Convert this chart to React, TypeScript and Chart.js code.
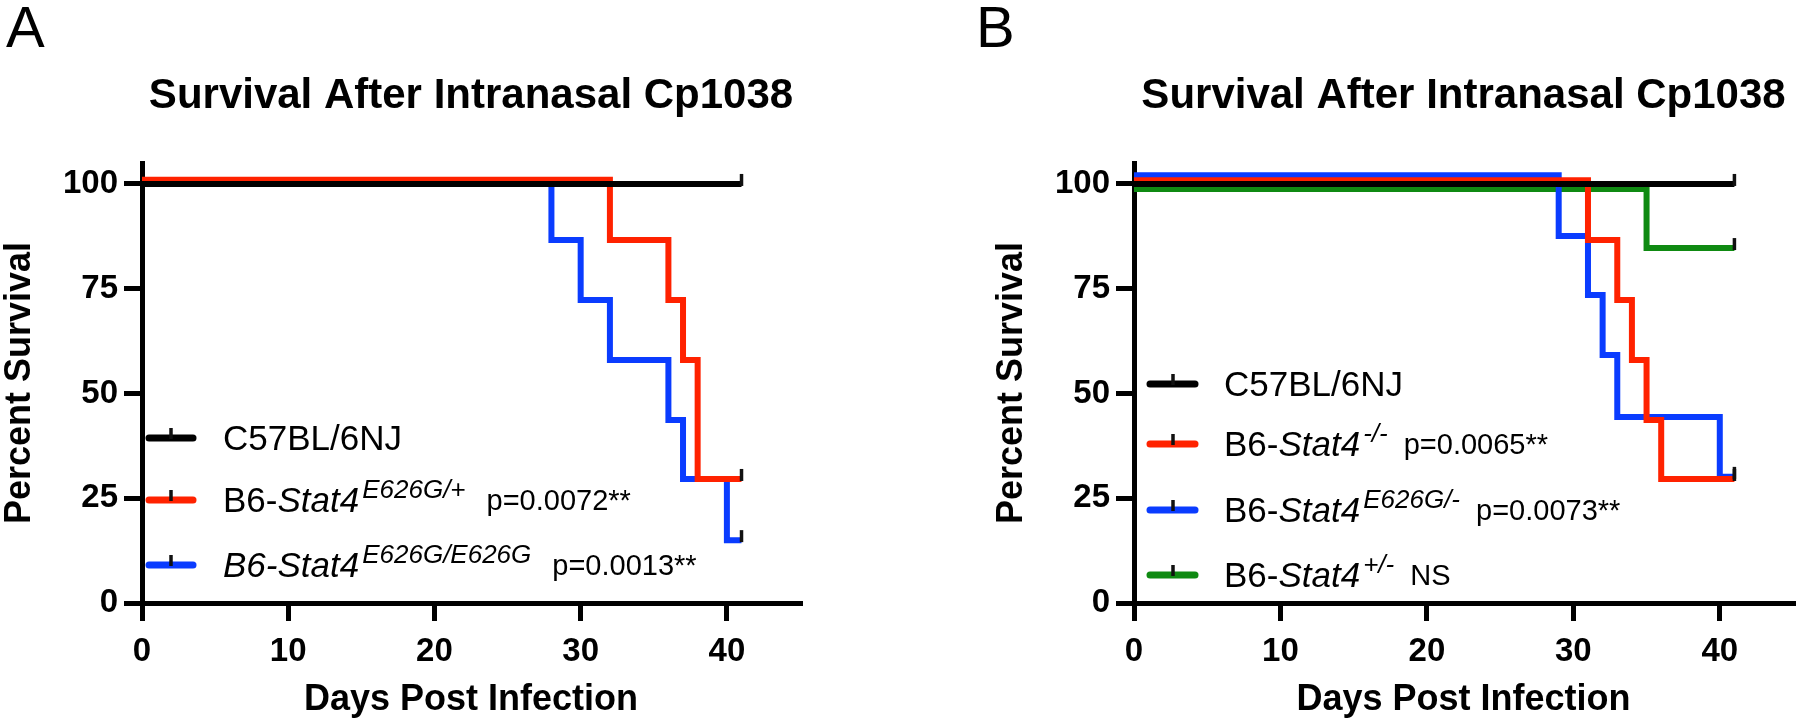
import React, { useEffect, useRef } from 'react';
import { Chart, registerables } from 'chart.js';

Chart.register(...registerables);

const FONT = '"Liberation Sans", Arial, Helvetica, sans-serif';

// ---- shared axis data ----
const xTickValues = [0, 10, 20, 30, 40];
const yTickValues = [0, 25, 50, 75, 100];
const xAxisMax = 45;
const yAxisMax = 105;
const chartTitle = 'Survival After Intranasal Cp1038';
const xAxisTitle = 'Days Post Infection';
const yAxisTitle = 'Percent Survival';

// ---- Panel A ----
const aBlackDays = [0, 41];
const aBlackVals = [100, 100];
const aRedDays = [0, 32, 36, 37, 38, 41];
const aRedVals = [101, 86.6, 72.3, 58.0, 29.6, 29.6];
const aBlueDays = [0, 28, 30, 32, 36, 37, 40, 41];
const aBlueVals = [100, 86.6, 72.3, 58.0, 43.7, 29.6, 15.0, 15.0];
const aNames = ['C57BL/6NJ', 'B6-Stat4', 'B6-Stat4'];
const aSups = ['', 'E626G/+', 'E626G/E626G'];
const aPvals = ['', 'p=0.0072**', 'p=0.0013**'];
const aAllItalic = [false, false, true];

// ---- Panel B ----
const bBlackDays = [0, 41];
const bBlackVals = [100, 100];
const bRedDays = [0, 31, 33, 34, 35, 36, 41];
const bRedVals = [100.9, 86.6, 72.3, 58.0, 43.7, 29.6, 29.6];
const bBlueDays = [0, 29, 31, 32, 33, 40, 41];
const bBlueVals = [102.1, 87.6, 73.5, 59.2, 44.4, 30.1, 30.1];
const bGreenDays = [0, 35, 41];
const bGreenVals = [98.8, 84.7, 84.7];
const bNames = ['C57BL/6NJ', 'B6-Stat4', 'B6-Stat4', 'B6-Stat4'];
const bSups = ['', '-/-', 'E626G/-', '+/-'];
const bPvals = ['', 'p=0.0065**', 'p=0.0073**', 'NS'];
const bAllItalic = [false, false, false, false];

const BLACK = '#000000';
const RED = '#ff2200';
const BLUE = '#0a3cff';
const GREEN = '#0f8a12';

type PanelCfg = {
  letter: string;
  letterX: number;
  padLeft: number;
  padRight: number;
  series: { days: number[]; vals: number[]; color: string }[];
  names: string[];
  sups: string[];
  pvals: string[];
  allItalic: boolean[];
  legendLineX0: number;
  legendLineX1: number;
  legendTickX: number;
  legendTextX: number;
  legendYs: number[];
  pGap: number;
};

const panels: PanelCfg[] = [
  {
    letter: 'A',
    letterX: 6,
    padLeft: 0,
    padRight: 100,
    series: [
      { days: aBlackDays, vals: aBlackVals, color: BLACK },
      { days: aRedDays, vals: aRedVals, color: RED },
      { days: aBlueDays, vals: aBlueVals, color: BLUE },
    ],
    names: aNames,
    sups: aSups,
    pvals: aPvals,
    allItalic: aAllItalic,
    legendLineX0: 149,
    legendLineX1: 193,
    legendTickX: 171,
    legendTextX: 223,
    legendYs: [438, 500, 565],
    pGap: 21,
  },
  {
    letter: 'B',
    letterX: 76,
    padLeft: 92,
    padRight: 7,
    series: [
      { days: bBlackDays, vals: bBlackVals, color: BLACK },
      { days: bRedDays, vals: bRedVals, color: RED },
      { days: bBlueDays, vals: bBlueVals, color: BLUE },
      { days: bGreenDays, vals: bGreenVals, color: GREEN },
    ],
    names: bNames,
    sups: bSups,
    pvals: bPvals,
    allItalic: bAllItalic,
    legendLineX0: 250,
    legendLineX1: 295,
    legendTickX: 273,
    legendTextX: 324,
    legendYs: [384, 444, 510, 575],
    pGap: 16,
  },
];

function makeOverlay(p: PanelCfg) {
  return {
    id: 'overlay' + p.letter,
    afterDatasetsDraw(chart: any) {
      const ctx = chart.ctx;
      ctx.save();
      chart.data.datasets.forEach((_ds: any, i: number) => {
        const meta = chart.getDatasetMeta(i);
        const pt = meta.data[meta.data.length - 1];
        if (!pt) return;
        ctx.strokeStyle = '#111111';
        ctx.lineWidth = 3.5;
        ctx.lineCap = 'butt';
        ctx.beginPath();
        ctx.moveTo(pt.x, pt.y - 10);
        ctx.lineTo(pt.x, pt.y + 2);
        ctx.stroke();
      });
      ctx.restore();
    },
    afterDraw(chart: any) {
      const ctx = chart.ctx;
      ctx.save();
      ctx.fillStyle = '#000';
      ctx.textBaseline = 'alphabetic';
      ctx.textAlign = 'left';
      ctx.font = `58px ${FONT}`;
      ctx.fillText(p.letter, p.letterX, 47);

      p.names.forEach((name, i) => {
        const y = p.legendYs[i];
        const color = p.series[i].color;
        ctx.strokeStyle = color;
        ctx.lineWidth = 7;
        ctx.lineCap = 'round';
        ctx.beginPath();
        ctx.moveTo(p.legendLineX0, y);
        ctx.lineTo(p.legendLineX1, y);
        ctx.stroke();
        ctx.strokeStyle = '#111111';
        ctx.lineWidth = 3.5;
        ctx.lineCap = 'butt';
        ctx.beginPath();
        ctx.moveTo(p.legendTickX, y - 10);
        ctx.lineTo(p.legendTickX, y + 1);
        ctx.stroke();

        const base = y + 12;
        let x = p.legendTextX;
        ctx.fillStyle = '#000';
        if (name.startsWith('B6-')) {
          const prefix = 'B6-';
          const rest = name.slice(3);
          ctx.font = `${p.allItalic[i] ? 'italic ' : ''}35px ${FONT}`;
          ctx.fillText(prefix, x, base);
          x += ctx.measureText(prefix).width;
          ctx.font = `italic 35px ${FONT}`;
          ctx.fillText(rest, x, base);
          x += ctx.measureText(rest).width;
        } else {
          ctx.font = `${p.allItalic[i] ? 'italic ' : ''}35px ${FONT}`;
          ctx.fillText(name, x, base);
          x += ctx.measureText(name).width;
        }
        if (p.sups[i]) {
          x += 3;
          ctx.font = `italic 26px ${FONT}`;
          ctx.fillText(p.sups[i], x, base - 14);
          x += ctx.measureText(p.sups[i]).width;
        }
        if (p.pvals[i]) {
          x += p.pGap;
          ctx.font = `29px ${FONT}`;
          ctx.fillText(p.pvals[i], x, base - 2);
        }
      });
      ctx.restore();
    },
  };
}

function Panel({ cfg, left }: { cfg: PanelCfg; left: number }) {
  const ref = useRef<HTMLCanvasElement | null>(null);
  useEffect(() => {
    if (!ref.current) return;
    const chart = new Chart(ref.current, {
      type: 'line',
      data: {
        datasets: cfg.series.map((s) => ({
          data: s.days.map((d, i) => ({ x: d, y: s.vals[i] })),
          borderColor: s.color,
          backgroundColor: s.color,
          borderWidth: 6,
          stepped: true,
          pointRadius: 0,
          fill: false,
          borderJoinStyle: 'miter',
          borderCapStyle: 'butt',
        })),
      },
      options: {
        animation: false,
        responsive: false,
        devicePixelRatio: 1,
        layout: { padding: { left: cfg.padLeft, right: cfg.padRight, top: 0, bottom: 0 } },
        plugins: {
          legend: { display: false },
          tooltip: { enabled: false },
          title: {
            display: true,
            text: chartTitle,
            color: '#000',
            fullSize: false,
            align: 'center',
            font: { family: FONT, size: 42, weight: 'bold', lineHeight: 1 },
            padding: { top: 75, bottom: 46 },
          },
        },
        scales: {
          x: {
            type: 'linear',
            min: 0,
            max: xAxisMax,
            afterBuildTicks: (s: any) => {
              s.ticks = xTickValues.map((v) => ({ value: v }));
            },
            afterFit: (s: any) => {
              s.height = 122;
            },
            ticks: {
              color: '#000',
              padding: 11,
              font: { family: FONT, size: 33, weight: 'bold' },
            },
            grid: {
              display: true,
              drawOnChartArea: false,
              drawTicks: true,
              tickLength: 18,
              tickWidth: 5,
              lineWidth: 5,
              tickColor: '#000',
              color: '#000',
            },
            border: { display: true, width: 5, color: '#000' },
            title: {
              display: true,
              text: xAxisTitle,
              color: '#000',
              font: { family: FONT, size: 36, weight: 'bold', lineHeight: 1 },
              padding: { top: 0, bottom: 7 },
            },
          },
          y: {
            type: 'linear',
            min: 0,
            max: yAxisMax,
            afterBuildTicks: (s: any) => {
              s.ticks = yTickValues.map((v) => ({ value: v }));
            },
            afterFit: (s: any) => {
              s.width = 142;
            },
            ticks: {
              color: '#000',
              padding: 6,
              font: { family: FONT, size: 33, weight: 'bold' },
            },
            grid: {
              display: true,
              drawOnChartArea: false,
              drawTicks: true,
              tickLength: 18,
              tickWidth: 5,
              lineWidth: 5,
              tickColor: '#000',
              color: '#000',
            },
            border: { display: true, width: 5, color: '#000' },
            title: {
              display: true,
              text: yAxisTitle,
              color: '#000',
              font: { family: FONT, size: 36, weight: 'bold', lineHeight: 1 },
              padding: { top: 2, bottom: 0 },
            },
          },
        },
      } as any,
      plugins: [makeOverlay(cfg)],
    });
    return () => chart.destroy();
  }, [cfg]);
  return (
    <canvas
      ref={ref}
      width={900}
      height={725}
      style={{ position: 'absolute', left, top: 0, width: 900, height: 725 }}
    />
  );
}

export default function App() {
  return (
    <div
      style={{
        position: 'fixed',
        left: 0,
        top: 0,
        width: 1800,
        height: 725,
        background: '#ffffff',
        overflow: 'hidden',
      }}
    >
      <Panel cfg={panels[0]} left={0} />
      <Panel cfg={panels[1]} left={900} />
    </div>
  );
}
